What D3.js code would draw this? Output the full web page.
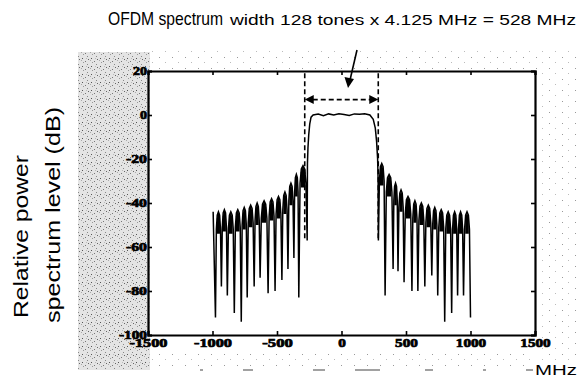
<!DOCTYPE html>
<html>
<head>
<meta charset="utf-8">
<script src="https://cdn.jsdelivr.net/npm/d3@7"></script>
<style>
  body { margin: 0; background: #fff; }
  svg { display: block; }
</style>
</head>
<body>
<div id="chart"></div>
<script>
const width = 579;
const height = 378;

// axis ticks
const xTicks = [-1500, -1000, -500, 0, 500, 1000, 1500];
const yTicks = [20, 0, -20, -40, -60, -80, -100];

// lower sidelobes: null frequencies (MHz), null depths (dB), lobe peaks (dB)
const leftNullFreq = [-977, -931, -885, -831, -777, -731, -677, -631, -569, -515, -462, -415, -369, -331];
const leftNullLevel = [-92, -78, -82, -90, -94, -83, -78, -74, -81, -80, -75, -70, -65, -83];
const leftLobePeak = [-44, -44, -43, -44, -43, -42, -41, -40, -39, -38, -37, -35, -31, -27, -23];

// main OFDM band (528 MHz wide)
const bandFreq = [-266, -264, -260, -254, -246, -236, -220, -180, -140, -100, -60, -20, 20, 60, 100, 140, 180, 220, 246, 262, 272, 280, 284, 286];
const bandLevel = [-57, -22, -15, -9, -4, -1, 0, 0.4, -0.3, 0.5, 0, 0.6, 0.2, -0.2, 0.5, 0.3, 0.6, 0, -2, -6, -12, -20, -30, -57];

// upper sidelobes
const rightNullFreq = [338, 400, 438, 485, 546, 592, 646, 700, 746, 800, 854, 900, 946, 1000];
const rightNullLevel = [-82, -70, -71, -76, -80, -80, -78, -73, -82, -94, -90, -82, -82, -92];
const rightLobePeak = [-22, -27, -31, -34, -37, -39, -40, -41, -42, -43, -44, -44, -44, -44];

const spanMarks = [-285, 285]; // dashed band markers

const svg = d3.select("#chart").append("svg")
    .attr("width", width)
    .attr("height", height);

// scanned-paper speckle
const defs = svg.append("defs");
const pat = defs.append("pattern").attr("id", "speck")
    .attr("width", 9).attr("height", 8).attr("patternUnits", "userSpaceOnUse");
[[1, 2, "#555"], [4, 5, "#777"], [6, 0, "#888"], [2, 6, "#999"], [7, 3, "#666"], [0, 4, "#aaa"], [5, 2, "#bbb"]]
    .forEach(p => pat.append("rect").attr("x", p[0]).attr("y", p[1])
        .attr("width", 1).attr("height", 1).attr("fill", p[2]));
const pat2 = defs.append("pattern").attr("id", "speck2")
    .attr("width", 13).attr("height", 11).attr("patternUnits", "userSpaceOnUse");
pat2.append("rect").attr("x", 3).attr("y", 2).attr("width", 1).attr("height", 1).attr("fill", "#999");
pat2.append("rect").attr("x", 9).attr("y", 7).attr("width", 1).attr("height", 1).attr("fill", "#bbb");

svg.append("rect").attr("x", 78).attr("y", 52).attr("width", 72).attr("height", 318)
    .attr("fill", "#e4e4e4");
svg.append("rect").attr("x", 78).attr("y", 52).attr("width", 72).attr("height", 318)
    .attr("fill", "url(#speck)");
svg.append("rect").attr("x", 150).attr("y", 48).attr("width", 429).attr("height", 22)
    .attr("fill", "url(#speck2)");
svg.append("rect").attr("x", 537).attr("y", 70).attr("width", 42).attr("height", 290)
    .attr("fill", "url(#speck2)");
svg.append("rect").attr("x", 150).attr("y", 350).attr("width", 385).attr("height", 16)
    .attr("fill", "url(#speck2)");

const x = d3.scaleLinear().domain([-1500, 1500]).range([148, 535]);
const y = d3.scaleLinear().domain([-100, 20]).range([335, 71]);

// build trace: lobes between consecutive nulls
const lobeShapes = [];
function lobe(pts, a, b, p) {
    const w = b.f - a.f;
    pts.push({ f: a.f + 0.15 * w, v: p - 8 });
    pts.push({ f: a.f + 0.3 * w, v: p - 1.5 });
    pts.push({ f: a.f + 0.5 * w, v: p });
    pts.push({ f: b.f - 0.3 * w, v: p - 1.5 });
    pts.push({ f: b.f - 0.15 * w, v: p - 8 });
    lobeShapes.push({
        pts: [
            { f: a.f + 0.24 * w, v: p - 3 },
            { f: a.f + 0.5 * w, v: p },
            { f: b.f - 0.24 * w, v: p - 3 }
        ],
        base: p - 10
    });
}

const trace = [];
trace.push({ f: -995, v: leftLobePeak[0] });
const leftNulls = leftNullFreq.map((f, i) => ({ f: f, v: leftNullLevel[i] }));
leftNulls.push({ f: bandFreq[0], v: bandLevel[0] });
leftNulls.forEach((n, i) => {
    trace.push(n);
    if (i < leftNulls.length - 1) lobe(trace, n, leftNulls[i + 1], leftLobePeak[i + 1]);
});
bandFreq.forEach((f, i) => { if (i > 0) trace.push({ f: f, v: bandLevel[i] }); });
const rightNulls = [{ f: bandFreq[bandFreq.length - 1], v: bandLevel[bandLevel.length - 1] }]
    .concat(rightNullFreq.map((f, i) => ({ f: f, v: rightNullLevel[i] })));
rightNulls.forEach((n, i) => {
    if (i > 0) trace.push(n);
    if (i < rightNulls.length - 1) lobe(trace, n, rightNulls[i + 1], rightLobePeak[i]);
});

const line = d3.line().x(d => x(d.f)).y(d => y(d.v));
const lobeArea = d3.area().x(d => x(d.f)).y1(d => y(d.v));

// dark lobe tops, as on the measured trace
svg.selectAll(".lobe")
    .data(lobeShapes)
    .enter().append("path")
    .attr("d", d => lobeArea.y0(y(d.base))(d.pts))
    .attr("fill", "#000");

svg.append("path")
    .datum(trace)
    .attr("d", line)
    .attr("fill", "none")
    .attr("stroke", "#000")
    .attr("stroke-width", 1.5)
    .attr("stroke-linejoin", "miter");

// axes with inward ticks
const fmt = d => String(d);
const bottomAxis = svg.append("g")
    .attr("transform", `translate(0,${y(-100)})`)
    .call(d3.axisBottom(x).tickValues(xTicks).tickFormat(fmt).tickSize(-4).tickPadding(3));
svg.append("g")
    .attr("transform", `translate(0,${y(20)})`)
    .call(d3.axisTop(x).tickValues(xTicks).tickSize(-4).tickFormat(""));
const leftAxis = svg.append("g")
    .attr("transform", `translate(${x(-1500)},0)`)
    .call(d3.axisLeft(y).tickValues(yTicks).tickFormat(fmt).tickSize(-4).tickPadding(1));
svg.append("g")
    .attr("transform", `translate(${x(1500)},0)`)
    .call(d3.axisRight(y).tickValues(yTicks).tickSize(-4).tickFormat(""));

svg.selectAll(".domain").attr("stroke", "#000").attr("stroke-width", 2.2);
svg.selectAll(".tick line").attr("stroke", "#000").attr("stroke-width", 1.6);
svg.selectAll(".tick text")
    .attr("fill", "#000")
    .attr("stroke", "#000")
    .attr("stroke-width", 0.7)
    .style("font-family", "'Liberation Serif', serif")
    .style("font-weight", "bold")
    .style("font-size", "12px");
bottomAxis.selectAll(".tick text")
    .attr("textLength", d => String(d).length * 7.6)
    .attr("lengthAdjust", "spacingAndGlyphs");
leftAxis.selectAll(".tick text")
    .attr("textLength", d => String(d).length * 7)
    .attr("lengthAdjust", "spacingAndGlyphs");

// dashed band markers and double arrow
svg.selectAll(".mark")
    .data(spanMarks)
    .enter().append("line")
    .attr("x1", d => x(d)).attr("x2", d => x(d))
    .attr("y1", y(19)).attr("y2", y(-57))
    .attr("stroke", "#000").attr("stroke-width", 1.6)
    .attr("stroke-dasharray", "5,3");

const arrowY = y(7);
svg.append("line")
    .attr("x1", x(spanMarks[0]) + 8).attr("x2", x(spanMarks[1]) - 8)
    .attr("y1", arrowY).attr("y2", arrowY)
    .attr("stroke", "#000").attr("stroke-width", 1.6)
    .attr("stroke-dasharray", "5,3");
svg.append("path")
    .attr("d", `M${x(spanMarks[0])},${arrowY}l9,-4.5v9z M${x(spanMarks[1])},${arrowY}l-9,-4.5v9z`)
    .attr("fill", "#000");

// pointer from title
svg.append("line")
    .attr("x1", 357).attr("y1", 50).attr("x2", 350).attr("y2", 80)
    .attr("stroke", "#000").attr("stroke-width", 1.6);
svg.append("path")
    .attr("d", "M348,88 L344.5,77 L354,79 Z")
    .attr("fill", "#000");

// titles
svg.append("text")
    .attr("x", 108).attr("y", 25)
    .attr("textLength", 115).attr("lengthAdjust", "spacingAndGlyphs")
    .style("font-family", "'Liberation Sans', Arial, sans-serif")
    .style("font-size", "19px")
    .text("OFDM spectrum");
svg.append("text")
    .attr("x", 230).attr("y", 25)
    .attr("textLength", 346).attr("lengthAdjust", "spacingAndGlyphs")
    .style("font-family", "'Liberation Sans', Arial, sans-serif")
    .style("font-size", "14px")
    .text("width 128 tones x 4.125 MHz = 528 MHz");

svg.append("text")
    .attr("transform", "translate(28,318) rotate(-90)")
    .attr("textLength", 163).attr("lengthAdjust", "spacingAndGlyphs")
    .style("font-family", "'Liberation Sans', Arial, sans-serif")
    .style("font-size", "20px")
    .text("Relative power");
svg.append("text")
    .attr("transform", "translate(60,323) rotate(-90)")
    .attr("textLength", 216).attr("lengthAdjust", "spacingAndGlyphs")
    .style("font-family", "'Liberation Sans', Arial, sans-serif")
    .style("font-size", "20px")
    .text("spectrum level (dB)");

svg.append("text")
    .attr("x", 535).attr("y", 375)
    .attr("textLength", 42).attr("lengthAdjust", "spacingAndGlyphs")
    .style("font-family", "'Liberation Sans', Arial, sans-serif")
    .style("font-size", "15px")
    .text("MHz");

// scan residue along the bottom edge
svg.append("line")
    .attr("x1", 200).attr("x2", 533).attr("y1", 370).attr("y2", 370)
    .attr("stroke", "#444").attr("stroke-width", 1.2)
    .attr("stroke-dasharray", "3,40,10,60,12,30,25,45,8,50");
</script>
</body>
</html>
